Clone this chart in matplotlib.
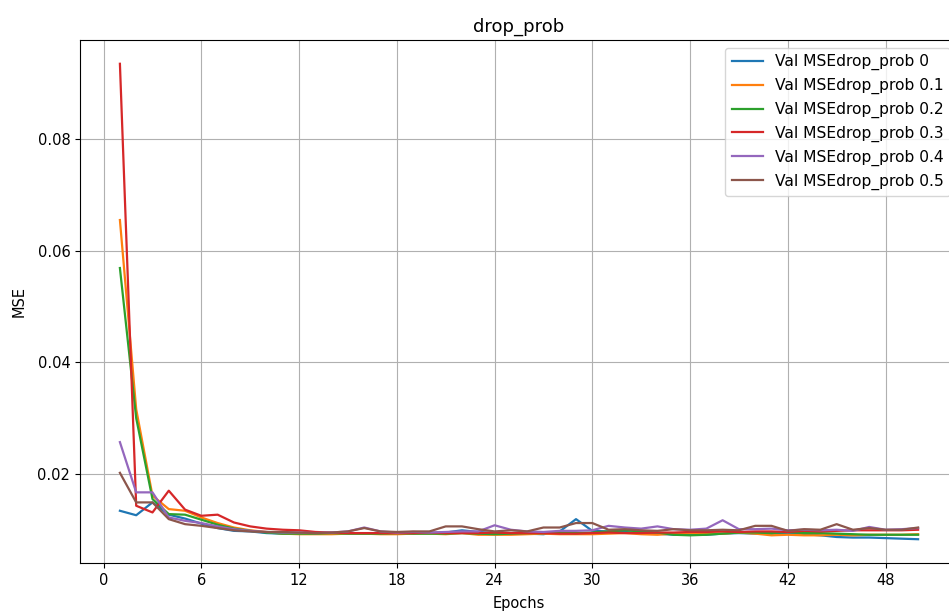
import numpy as np
import matplotlib
matplotlib.use("Agg")
import matplotlib.pyplot as plt

epochs = np.arange(1, 51)

drop_probs = ["0", "0.1", "0.2", "0.3", "0.4", "0.5"]

mse_p0 = [0.0134, 0.0126, 0.0149, 0.0127, 0.0120, 0.0111, 0.0103, 0.0098, 0.0097, 0.0094,
          0.0093, 0.0093, 0.0093, 0.0093, 0.0094, 0.0093, 0.0094, 0.0094, 0.0094, 0.0094,
          0.0095, 0.0099, 0.0096, 0.0094, 0.0094, 0.0093, 0.0092, 0.0097, 0.0119, 0.0098,
          0.0097, 0.0096, 0.0094, 0.0093, 0.0091, 0.0091, 0.0091, 0.0093, 0.0094, 0.0093,
          0.0093, 0.0094, 0.0092, 0.0090, 0.0087, 0.0086, 0.0086, 0.0085, 0.0084, 0.0083]

mse_p1 = [0.0655, 0.0316, 0.0161, 0.0137, 0.0134, 0.0122, 0.0112, 0.0104, 0.0099, 0.0096,
          0.0093, 0.0092, 0.0092, 0.0092, 0.0093, 0.0093, 0.0092, 0.0092, 0.0093, 0.0093,
          0.0092, 0.0094, 0.0091, 0.0091, 0.0091, 0.0092, 0.0093, 0.0092, 0.0092, 0.0092,
          0.0093, 0.0094, 0.0092, 0.0091, 0.0093, 0.0094, 0.0094, 0.0093, 0.0095, 0.0093,
          0.0090, 0.0091, 0.0090, 0.0090, 0.0091, 0.0090, 0.0091, 0.0091, 0.0091, 0.0092]

mse_p2 = [0.0569, 0.0300, 0.0155, 0.0128, 0.0127, 0.0118, 0.0109, 0.0102, 0.0098, 0.0095,
          0.0093, 0.0093, 0.0093, 0.0094, 0.0093, 0.0093, 0.0093, 0.0094, 0.0093, 0.0093,
          0.0093, 0.0094, 0.0093, 0.0092, 0.0093, 0.0094, 0.0094, 0.0095, 0.0094, 0.0095,
          0.0097, 0.0099, 0.0097, 0.0095, 0.0091, 0.0090, 0.0091, 0.0093, 0.0095, 0.0095,
          0.0094, 0.0096, 0.0094, 0.0094, 0.0093, 0.0092, 0.0091, 0.0091, 0.0091, 0.0091]

mse_p3 = [0.0935, 0.0143, 0.0131, 0.0170, 0.0136, 0.0125, 0.0127, 0.0113, 0.0106, 0.0102,
          0.0100, 0.0099, 0.0096, 0.0095, 0.0094, 0.0094, 0.0094, 0.0094, 0.0094, 0.0095,
          0.0094, 0.0094, 0.0094, 0.0095, 0.0094, 0.0094, 0.0094, 0.0093, 0.0093, 0.0094,
          0.0095, 0.0094, 0.0094, 0.0095, 0.0095, 0.0096, 0.0096, 0.0097, 0.0096, 0.0097,
          0.0097, 0.0096, 0.0098, 0.0097, 0.0098, 0.0099, 0.0099, 0.0099, 0.0099, 0.0100]

mse_p4 = [0.0257, 0.0167, 0.0167, 0.0122, 0.0116, 0.0112, 0.0106, 0.0101, 0.0098, 0.0096,
          0.0095, 0.0095, 0.0094, 0.0095, 0.0097, 0.0104, 0.0097, 0.0095, 0.0096, 0.0095,
          0.0096, 0.0097, 0.0097, 0.0108, 0.0100, 0.0097, 0.0096, 0.0098, 0.0098, 0.0099,
          0.0107, 0.0104, 0.0102, 0.0106, 0.0101, 0.0100, 0.0102, 0.0117, 0.0101, 0.0101,
          0.0102, 0.0099, 0.0100, 0.0099, 0.0100, 0.0098, 0.0105, 0.0100, 0.0101, 0.0103]

mse_p5 = [0.0202, 0.0149, 0.0149, 0.0119, 0.0110, 0.0107, 0.0103, 0.0099, 0.0097, 0.0096,
          0.0096, 0.0095, 0.0094, 0.0095, 0.0097, 0.0103, 0.0097, 0.0096, 0.0097, 0.0097,
          0.0106, 0.0106, 0.0101, 0.0097, 0.0099, 0.0097, 0.0104, 0.0104, 0.0112, 0.0112,
          0.0100, 0.0101, 0.0099, 0.0098, 0.0101, 0.0099, 0.0099, 0.0100, 0.0099, 0.0107,
          0.0107, 0.0098, 0.0101, 0.0100, 0.0110, 0.0100, 0.0103, 0.0100, 0.0100, 0.0104]

all_mse = [mse_p0, mse_p1, mse_p2, mse_p3, mse_p4, mse_p5]

fig = plt.figure(figsize=(9.49, 6.12), dpi=100)
# the original screenshot is cropped on the right, so the axes run past the edge
ax = fig.add_axes([80 / 949, 49 / 612, 878 / 949, 523 / 612])

for p, vals in zip(drop_probs, all_mse):
    ax.plot(epochs, vals, linewidth=1.6, label=f"Val MSEdrop_prob {p}")

ax.set_xticks(np.arange(0, 49, 6))
ax.set_yticks([0.02, 0.04, 0.06, 0.08])
ax.grid(True)
ax.set_title("drop_prob", fontsize=13)
ax.set_xlabel("Epochs", fontsize=10.5, labelpad=6)
ax.set_ylabel("MSE", fontsize=10.5, labelpad=8)
ax.tick_params(labelsize=10.5)
ax.legend(loc="upper right", fontsize=11.2)

fig.savefig("out.png", dpi=100)
